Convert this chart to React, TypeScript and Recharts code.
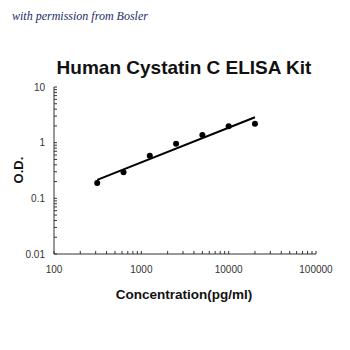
import React from "react";
import { ScatterChart, Scatter, XAxis, YAxis } from "recharts";

const concentrations = [312.5, 625, 1250, 2500, 5000, 10000, 20000];
const odValues = [0.189, 0.294, 0.585, 0.96, 1.37, 1.97, 2.19];
const fitConcentrations = [312.5, 20000];
const fitValues = [0.214, 2.86];
const xMajor = [100, 1000, 10000, 100000];
const yMajor = [0.01, 0.1, 1, 10];
const xTickLabels = ["100", "1000", "10000", "100000"];
const yTickLabels = ["0.01", "0.1", "1", "10"];

const points = concentrations.map((c, i) => ({ x: c, y: odValues[i] }));
const fit = fitConcentrations.map((c, i) => ({ x: c, y: fitValues[i] }));

const minorOf = (majors: number[]) => {
  const out: number[] = [];
  for (let i = 0; i < majors.length; i++) {
    out.push(majors[i]);
    if (i < majors.length - 1) {
      for (let k = 2; k <= 9; k++) out.push(+(majors[i] * k).toPrecision(6));
    }
  }
  return out;
};
const xTicks = minorOf(xMajor);
const yTicks = minorOf(yMajor);

const FONT = "'Liberation Sans', Arial, sans-serif";

const XTick = (props: any) => {
  const { x, y, payload } = props;
  const idx = xMajor.findIndex((v) => Math.abs(v - payload.value) < 1e-6);
  return (
    <g>
      <line x1={x} x2={x} y1={y} y2={y - 3} stroke="#333" strokeWidth={1} />
      {idx >= 0 && (
        <text x={x} y={y + 19} textAnchor="middle" fontSize={10} fill="#333" fontFamily={FONT}>
          {xTickLabels[idx]}
        </text>
      )}
    </g>
  );
};

const YTick = (props: any) => {
  const { x, y, payload } = props;
  const idx = yMajor.findIndex((v) => Math.abs(v - payload.value) < 1e-9);
  return (
    <g>
      <line x1={x} x2={x + 3} y1={y} y2={y} stroke="#333" strokeWidth={1} />
      {idx >= 0 && (
        <text x={x - 9} y={y + 3.5} textAnchor="end" fontSize={10} fill="#333" fontFamily={FONT}>
          {yTickLabels[idx]}
        </text>
      )}
    </g>
  );
};

const Dot = (props: any) => {
  const { cx, cy } = props;
  return <circle cx={cx} cy={cy} r={3} fill="#000" />;
};
const NoShape = () => <g />;

export default function App() {
  return (
    <div style={{ position: "absolute", left: 0, top: 0, width: 350, height: 350, background: "#fff" }}>
      <svg width={350} height={350} style={{ position: "absolute", left: 0, top: 0 }}>
        <text x={12} y={20} fontSize={12} fontStyle="italic" fill="#1b2a6b" fontFamily="'Liberation Serif', serif">
          with permission from Bosler
        </text>
        <text x={184} y={74} textAnchor="middle" fontSize={19} fontWeight="bold" fill="#111" fontFamily={FONT}>
          Human Cystatin C ELISA Kit
        </text>
        <text x={184} y={299} textAnchor="middle" fontSize={13.5} fontWeight="bold" fill="#111" fontFamily={FONT}>
          Concentration(pg/ml)
        </text>
        <text
          x={23}
          y={170}
          textAnchor="middle"
          fontSize={13}
          fontWeight="bold"
          fill="#111"
          fontFamily={FONT}
          transform="rotate(-90 23 170)"
        >
          O.D.
        </text>
      </svg>
      <div style={{ position: "absolute", left: 0, top: 0 }}>
        <ScatterChart width={350} height={350} margin={{ top: 87, right: 34, bottom: 66, left: 0 }}>
          <XAxis
            dataKey="x"
            type="number"
            scale="log"
            domain={[100, 100000]}
            ticks={xTicks}
            interval={0}
            tickSize={0}
            tickMargin={0}
            tick={<XTick />}
            height={30}
            stroke="#333"
            allowDataOverflow
          />
          <YAxis
            dataKey="y"
            type="number"
            scale="log"
            domain={[0.01, 10]}
            ticks={yTicks}
            interval={0}
            tickSize={0}
            tickMargin={0}
            tick={<YTick />}
            width={54}
            stroke="#333"
            allowDataOverflow
          />
          <Scatter
            data={fit}
            line={{ stroke: "#000", strokeWidth: 2 }}
            shape={<NoShape />}
            isAnimationActive={false}
          />
          <Scatter data={points} shape={<Dot />} isAnimationActive={false} />
        </ScatterChart>
      </div>
    </div>
  );
}
